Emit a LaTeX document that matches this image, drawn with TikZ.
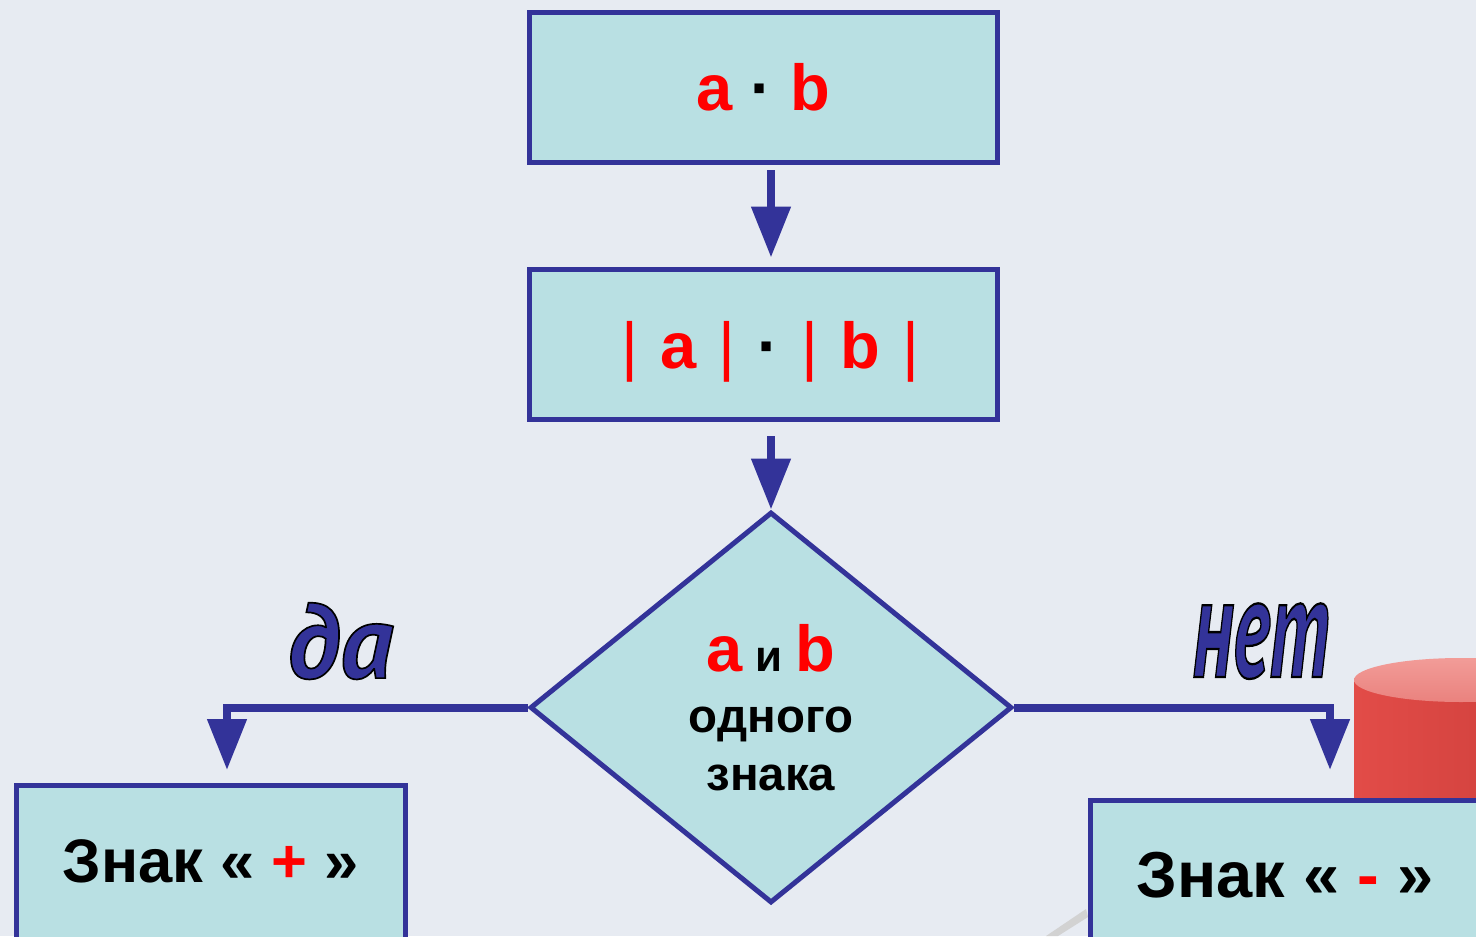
\documentclass[tikz,border=0pt]{standalone}
\usepackage{fontspec}
\setmainfont{Liberation Sans}
\newfontfamily\yesnofont{PT Sans}[BoldItalicFeatures={FakeBold=1.6}]
\usetikzlibrary{shapes.geometric,arrows.meta}
\definecolor{paper}{RGB}{231,235,242}
\definecolor{boxfill}{RGB}{185,224,227}
\definecolor{edgeblue}{RGB}{51,51,153}
\definecolor{sign}{RGB}{255,0,0}
\newcommand{\modbar}{{\mdseries|}}
\newcommand{\gap}{\hspace{0.34em}}
% black rim round the blue answer words
\newcommand{\rimmed}[1]{\special{pdf:literal 0 0 0 RG}#1}
\tikzset{
  BlockStyle/.style = { rectangle, draw = edgeblue, fill = boxfill,
                        line width = 0.1cm, inner sep = 0pt },
  CondStyle/.style = { diamond, draw = edgeblue, fill = boxfill,
                       line width = 0.1cm, inner sep = 0pt, align = center,
                       minimum width = 9.64cm, minimum height = 7.82cm },
  FlowStyle/.style = { draw = edgeblue, line width = 0.16cm,
                       -{Triangle[width=0.76cm,length=1.02cm]} },
  AnswerStyle/.style = { anchor = base, inner sep = 0pt, text = edgeblue,
                         font = \yesnofont\bfseries\itshape\fontsize{60}{60}\selectfont } }

\begin{document}
\begin{tikzpicture}[x=0.02cm,y=-0.02cm]
  \useasboundingbox (0,0) rectangle (1476,936);
  \clip (0,0) rectangle (1476,936);
  \fill[paper] (0,0) rectangle (1476,936);

  % red cylinder behind the right block
  \shade[left color={rgb,255:red,226;green,76;blue,72},
         right color={rgb,255:red,204;green,62;blue,58}]
    (1354,680) rectangle (1568,830);
  \shade[top color={rgb,255:red,242;green,156;blue,152},
         bottom color={rgb,255:red,234;green,130;blue,126}]
    (1461,680) ellipse [x radius=107, y radius=22];
  \fill[gray!35] (1046,936) -- (1086,909) -- (1088,917) -- (1058,936) -- cycle;

  \node[BlockStyle, minimum width=9.38cm, minimum height=3.02cm,
        font=\bfseries\fontsize{37}{37}\selectfont] (prod) at (763.5,87.5)
    {\textcolor{sign}{a} · \textcolor{sign}{b}};
  \node[BlockStyle, minimum width=9.38cm, minimum height=3.02cm, text depth=0pt,
        font=\bfseries\fontsize{37}{37}\selectfont] (absprod) at (763.5,344.5)
    {\hspace*{0.28cm}\textcolor{sign}{\modbar\gap a\gap\modbar}\gap·\gap\textcolor{sign}{\modbar\gap b\gap\modbar}};
  \node[CondStyle, font=\bfseries\fontsize{27}{33}\selectfont] (cond) at (771,707.5)
    {\textcolor{sign}{\fontsize{37}{37}\selectfont a} {\fontsize{25}{25}\selectfont и}
     \textcolor{sign}{\fontsize{37}{37}\selectfont b}\\[2pt] одного\\ знака};

  \node[BlockStyle, anchor=base, minimum width=7.78cm, text height=1.94cm,
        text depth=2cm, font=\bfseries\fontsize{35}{35}\selectfont] (plus) at (211,882)
    {Знак « \textcolor{sign}{+} »};
  \node[BlockStyle, anchor=base, minimum width=7.78cm, text height=1.94cm,
        text depth=2cm, font=\bfseries\fontsize{37}{37}\selectfont] (minus) at (1285,897)
    {Знак « \textcolor{sign}{-} »};

  \coordinate (yesend) at (227,770);
  \coordinate (noend) at (1330,770);

  \draw[FlowStyle, shorten <=0.1cm, shorten >=0.18cm]
    (prod.south -| cond.north) -- (absprod.north -| cond.north);
  \draw[FlowStyle, shorten <=0.28cm] (absprod.south -| cond.north) -- (cond.north);
  \draw[FlowStyle] (cond.west) -| (yesend);
  \draw[FlowStyle] (cond.east) -| (noend);

  \node[AnswerStyle] (yes) at (340,678) {\rimmed{да}};
  \node[AnswerStyle, xscale=0.74, yscale=1.36] (no) at (1261,677) {\rimmed{нет}};
\end{tikzpicture}
\end{document}
